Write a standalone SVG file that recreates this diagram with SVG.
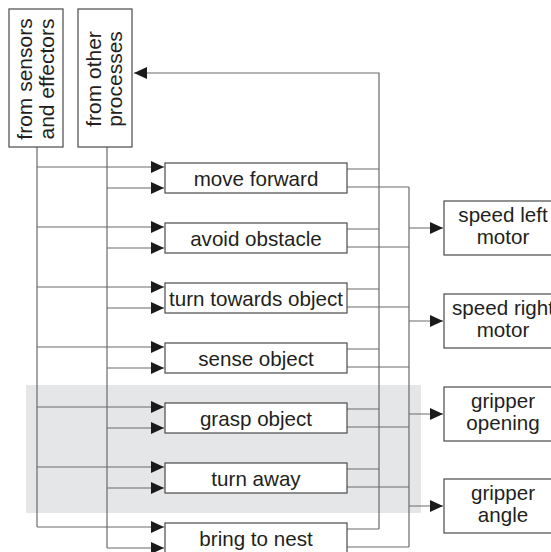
<svg xmlns="http://www.w3.org/2000/svg" width="551" height="552" viewBox="0 0 551 552">
<style>
.box{fill:#fff;stroke:#4a4a4a;stroke-width:1.2}
.ln{fill:none;stroke:#6a6a6a;stroke-width:1.2}
.t{font-family:"Liberation Sans",Arial,sans-serif;font-size:20.6px;fill:#231f20;text-anchor:middle}
.r{font-size:21px}
</style>
<defs>
<marker id="ah" markerUnits="userSpaceOnUse" markerWidth="14" markerHeight="12" refX="13" refY="6" orient="auto">
<path d="M0,0 L13,6 L0,12 Z" fill="#1a1a1a"/>
</marker>
</defs>
<rect x="26" y="385" width="395" height="128" fill="#e5e6e8"/>
<g id="connectors">
<path class="ln" d="M37,147 V527"/>
<path class="ln" d="M107,147 V548"/>
<path class="ln" d="M379,529 V73 H134" marker-end="url(#ah)"/>
<path class="ln" d="M409,187 V547"/>
<path class="ln" d="M37,167 H164" marker-end="url(#ah)"/>
<path class="ln" d="M107,188 H164" marker-end="url(#ah)"/>
<path class="ln" d="M37,227 H164" marker-end="url(#ah)"/>
<path class="ln" d="M107,248 H164" marker-end="url(#ah)"/>
<path class="ln" d="M37,287 H164" marker-end="url(#ah)"/>
<path class="ln" d="M107,308 H164" marker-end="url(#ah)"/>
<path class="ln" d="M37,347 H164" marker-end="url(#ah)"/>
<path class="ln" d="M107,368 H164" marker-end="url(#ah)"/>
<path class="ln" d="M37,407 H164" marker-end="url(#ah)"/>
<path class="ln" d="M107,428 H164" marker-end="url(#ah)"/>
<path class="ln" d="M37,467 H164" marker-end="url(#ah)"/>
<path class="ln" d="M107,488 H164" marker-end="url(#ah)"/>
<path class="ln" d="M37,527 H164" marker-end="url(#ah)"/>
<path class="ln" d="M107,548 H164" marker-end="url(#ah)"/>
<path class="ln" d="M347,169 H379 M347,187 H409"/>
<path class="ln" d="M347,229 H379 M347,247 H409"/>
<path class="ln" d="M347,289 H379 M347,307 H409"/>
<path class="ln" d="M347,349 H379 M347,367 H409"/>
<path class="ln" d="M347,409 H379 M347,427 H409"/>
<path class="ln" d="M347,469 H379 M347,487 H409"/>
<path class="ln" d="M347,529 H379 M347,547 H409"/>
<path class="ln" d="M409,228 H443" marker-end="url(#ah)"/>
<path class="ln" d="M409,321 H443" marker-end="url(#ah)"/>
<path class="ln" d="M409,414 H443" marker-end="url(#ah)"/>
<path class="ln" d="M409,506 H443" marker-end="url(#ah)"/>
</g>
<g id="sensors">
<rect class="box" x="9" y="9" width="54" height="138"/>
<text class="t r" transform="translate(31.5,79) rotate(-90)">from sensors</text>
<text class="t r" transform="translate(53.5,79) rotate(-90)">and effectors</text>
</g>
<g id="other">
<rect class="box" x="78" y="9" width="54" height="138"/>
<text class="t r" transform="translate(100.5,79) rotate(-90)">from other</text>
<text class="t r" transform="translate(122,79) rotate(-90)">processes</text>
</g>
<g id="move-forward"><rect class="box" x="165" y="163" width="182" height="30"/><text class="t" x="256" y="186">move forward</text></g>
<g id="avoid-obstacle"><rect class="box" x="165" y="223" width="182" height="30"/><text class="t" x="256" y="246">avoid obstacle</text></g>
<g id="turn-towards-object"><rect class="box" x="165" y="283" width="182" height="30"/><text class="t" x="256" y="306">turn towards object</text></g>
<g id="sense-object"><rect class="box" x="165" y="343" width="182" height="30"/><text class="t" x="256" y="366">sense object</text></g>
<g id="grasp-object"><rect class="box" x="165" y="403" width="182" height="30"/><text class="t" x="256" y="426">grasp object</text></g>
<g id="turn-away"><rect class="box" x="165" y="463" width="182" height="30"/><text class="t" x="256" y="486">turn away</text></g>
<g id="bring-to-nest"><rect class="box" x="165" y="523" width="182" height="30"/><text class="t" x="256" y="546">bring to nest</text></g>
<g id="speed-left"><rect class="box" x="444" y="201" width="118" height="54"/><text class="t" x="503" y="222">speed left</text><text class="t" x="503" y="244">motor</text></g>
<g id="speed-right"><rect class="box" x="444" y="294" width="118" height="54"/><text class="t" x="503" y="315">speed right</text><text class="t" x="503" y="337">motor</text></g>
<g id="gripper-opening"><rect class="box" x="444" y="387" width="118" height="54"/><text class="t" x="503" y="408">gripper</text><text class="t" x="503" y="430">opening</text></g>
<g id="gripper-angle"><rect class="box" x="444" y="479" width="118" height="54"/><text class="t" x="503" y="500">gripper</text><text class="t" x="503" y="522">angle</text></g>
</svg>
